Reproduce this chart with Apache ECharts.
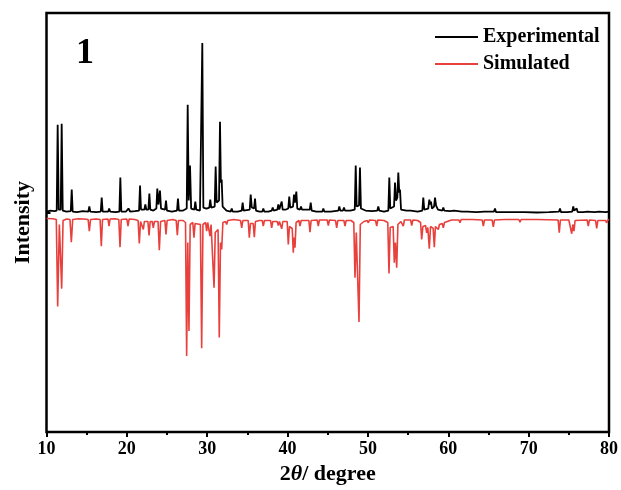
<!DOCTYPE html>
<html>
<head>
<meta charset="utf-8">
<script src="https://cdn.jsdelivr.net/npm/echarts@6/dist/echarts.min.js"></script>
<style>html,body{margin:0;padding:0;background:#fff}#c{width:621px;height:490px}</style>
</head>
<body>
<div id="c"></div>
<script>
// X axis: 2θ (degree); Y: relative intensity (arbitrary units, stacked offset)
const xTicks = [10, 20, 30, 40, 50, 60, 70, 80];
const seriesNames = ["Experimental", "Simulated"];
const panelLabel = "1";

// Experimental pattern: [2θ, intensity]
const experimental = [
[10.0,221],[10.5,222],[11.0,221.5],[11.27,222],[11.39,308],[11.52,223],[11.77,223],[11.89,309],[12.02,222],[12.5,221],
[13.02,221.5],[13.14,243],[13.26,221],[13.8,220.5],[14.5,221.5],[15.21,221],[15.33,226],[15.45,221],[16.2,220.5],
[16.75,221],[16.87,235],[16.99,221],[17.68,221],[17.8,224],[17.92,221],[18.6,220.5],[19.07,221],[19.19,255],[19.31,221],
[19.9,221],[20.2,224],[20.4,221],[21.0,221.5],[21.52,222],[21.64,247],[21.76,223],[22.18,223],[22.3,228],[22.42,223],
[22.68,223],[22.8,239],[22.92,223],[23.3,222],[23.67,224],[23.79,244],[23.93,228],[24.12,242],[24.25,224],[24.75,223],
[24.87,232],[24.99,222],[25.6,221],[26.24,222],[26.36,234],[26.48,222],[27.0,222],[27.45,224],[27.57,328],[27.7,232],
[27.86,267],[28.0,224],[28.4,223],[28.52,231],[28.64,223],[29.1,222],[29.27,223],[29.39,390],[29.52,225],[29.9,224],
[30.0,226],[30.1,224],[30.26,225],[30.38,233],[30.5,225],[30.93,226],[31.05,266],[31.18,230],[31.47,232],[31.59,311],
[31.7,250],[31.8,253],[31.92,226],[32.4,222],[32.93,221],[33.05,224],[33.17,221],[33.8,221],[34.29,222],[34.41,230],
[34.53,222],[35.29,223],[35.41,238],[35.55,225],[35.83,224],[35.95,234],[36.07,222],[36.5,221],[36.86,221],[36.98,224],
[37.1,221],[37.6,221],[38.03,222],[38.15,225],[38.27,222],[38.73,223],[38.85,228],[38.97,223],[39.15,224],[39.27,231],
[39.39,223],[39.8,223],[40.09,224],[40.21,236],[40.33,225],[40.68,226],[40.8,238],[40.92,230],[41.09,241],[41.21,224],
[41.55,223],[41.67,226],[41.79,223],[42.05,223],[42.17,225],[42.29,222],[42.76,223],[42.88,230],[43.0,222],[43.58,221],
[43.7,223],[43.82,221],[44.33,221],[44.45,224],[44.57,221],[45.37,221],[45.49,223],[45.61,221],[46.32,222],[46.44,226],
[46.56,222],[46.9,222],[47.02,225],[47.14,222],[47.8,222],[48.36,223],[48.48,267],[48.6,226],[48.89,227],[49.01,265],
[49.13,224],[49.7,222],[50.5,221.5],[51.17,222],[51.29,226],[51.41,222],[52.0,221],[52.54,222],[52.66,255],[52.78,224],
[53.25,226],[53.37,250],[53.5,232],[53.66,235],[53.78,260],[53.9,240],[53.99,243],[54.12,223],[54.8,222],[55.33,222],
[55.45,224],[55.57,221.5],[56.2,221],[56.77,222],[56.89,235],[57.01,223],[57.5,224],[57.64,233],[57.75,228],[57.85,231],
[57.97,224],[58.23,226],[58.35,235],[58.48,227],[58.6,228],[58.72,223],[59.26,222],[59.38,225],[59.5,222],[60.2,221.5],
[60.72,222],[60.84,224],[60.96,221],[61.7,221],[62.38,221],[62.5,222.5],[62.62,220.5],[63.5,220.5],[64.5,221],[65.69,221],
[65.81,224],[65.93,220.5],[67.0,220.5],[67.9,220.5],[68.0,222],[68.1,220],[69.5,220.5],[71.0,220],[72.5,220.5],[73.78,221],
[73.9,224],[74.02,220.5],[74.8,220.5],[75.43,221],[75.55,226],[75.67,222],[75.86,222],[75.98,224],[76.1,220.5],[76.8,220.5],
[77.3,221],[77.42,222.5],[77.54,220.5],[78.2,220.5],[78.76,221],[78.88,222.5],[79.0,220.5],[79.6,220.5],[80.0,221]
];

// Simulated pattern (inverted, offset below): [2θ, intensity]
const simulated = [
[10,214],[10.8,213.8],[11.22,213],[11.39,125.7],[11.6,208],[11.74,206],[11.89,143.7],[12.06,212],[12.5,213.5],[12.92,213],
[13.09,190.3],[13.26,213],[14.0,213.7],[14.6,213.5],[15.18,213],[15.33,201.3],[15.48,213],[16.2,213.5],[16.67,213],[16.82,186.3],
[16.97,213],[17.65,213.5],[17.78,206.3],[17.91,213.5],[18.5,213.7],[19.0,213],[19.15,185.3],[19.3,213],[20.0,213.5],[20.14,206.3],
[20.28,213.5],[21.0,213],[21.4,212],[21.55,189],[21.7,211],[21.92,211],[22.05,203],[22.18,211],[22.62,211],[22.76,197],
[22.9,211],[23.15,211],[23.29,204.7],[23.43,211],[23.88,211],[24.04,182.3],[24.2,211],[24.73,212],[24.87,198],[25.01,212],
[25.7,213],[26.14,212],[26.28,197.3],[26.42,212],[27.0,212],[27.3,210],[27.44,76.3],[27.58,190],[27.73,101.3],[27.88,208],
[28.21,210],[28.35,194.7],[28.49,209],[29.15,208],[29.31,84],[29.47,208],[29.8,210],[29.93,201.3],[30.06,210],[30.22,209],
[30.35,196.3],[30.48,208],[30.7,208],[30.85,144.7],[31.0,200],[31.35,203],[31.5,94.7],[31.65,190],[31.8,183],[31.95,210],
[32.28,211],[32.42,208],[32.56,212],[33.3,213],[34.15,212],[34.29,204.7],[34.43,212],[35.1,212],[35.24,194.7],[35.38,209],
[35.72,209],[35.86,195.3],[36.0,211],[36.5,212],[36.84,212],[36.98,206.3],[37.12,212],[37.5,212],[37.88,212],[38.02,204.7],
[38.16,211],[38.71,211],[38.85,207],[38.99,211],[39.13,211],[39.27,203.7],[39.41,211],[39.95,211],[40.09,188],[40.23,206],
[40.58,204],[40.71,179.7],[40.8,195],[40.92,184.7],[41.06,210],[41.41,212],[41.55,206.3],[41.69,212],[42.2,212],[42.65,212],
[42.79,200.3],[42.93,212],[43.68,212.5],[43.82,206.3],[43.96,212.5],[44.5,212.5],[44.93,212.5],[45.07,207],[45.21,212.5],[45.97,212],
[46.11,204.7],[46.25,212],[47.01,212],[47.15,206.3],[47.29,212],[47.9,212],[48.24,210],[48.39,154.7],[48.55,200],[48.73,200],
[48.89,110.3],[49.05,208],[49.5,211],[49.91,212],[50.05,209.7],[50.19,212.5],[50.95,212],[51.09,206.3],[51.23,212.5],[52.0,212],
[52.47,210],[52.62,159],[52.77,205],[53.14,206],[53.28,169.7],[53.42,190],[53.58,164.7],[53.73,208],[54.1,211],[54.26,212],
[54.4,206.3],[54.54,212.5],[55.31,212.5],[55.45,207],[55.59,212.5],[56.2,212],[56.55,210],[56.69,193],[56.84,206],[57.0,206],
[57.17,207],[57.31,199.7],[57.45,205],[57.64,183.7],[57.79,206],[58.12,204],[58.26,185.3],[58.4,206],[58.62,208],[58.76,203],
[58.9,208],[59.24,209],[59.38,204.7],[59.52,210],[60.4,212.5],[61.32,212.5],[61.46,209.7],[61.6,213],[63.0,213],[64.22,212.5],
[64.36,206.3],[64.5,212.5],[65.46,212.5],[65.6,205.7],[65.74,212.5],[67.0,213],[68.78,213],[68.92,210.3],[69.06,213],[71.0,213],
[73.67,212.5],[73.81,199.7],[73.95,212.5],[75.0,212.5],[75.22,212],[75.36,198.7],[75.5,208],[75.64,201.3],[75.78,212],[77.28,212.5],
[77.42,206.3],[77.56,212.5],[78.33,212],[78.47,204],[78.61,212],[79.57,212],[79.71,209.7],[79.85,212.5],[80,213]
];

const FONT = "'Liberation Serif','Times New Roman',serif";
const chart = echarts.init(document.getElementById('c'), null, {renderer: 'canvas'});
chart.setOption({
  animation: false,
  backgroundColor: '#fff',
  grid: {left: 46.5, right: 12, top: 13, bottom: 57, show: true, borderColor: '#000', borderWidth: 2.5, backgroundColor: 'transparent'},
  legend: {
    data: seriesNames, orient: 'vertical', left: 435, top: 27, itemGap: 7, padding: 0,
    icon: 'rect', itemWidth: 43, itemHeight: 2,
    textStyle: {fontFamily: FONT, fontWeight: 'bold', fontSize: 20, color: '#000', lineHeight: 20}
  },
  graphic: [{type: 'text', left: 76, top: 36, style: {text: panelLabel, font: "bold 36px " + FONT, fill: '#000'}}],
  xAxis: {
    type: 'value', min: xTicks[0], max: xTicks[xTicks.length - 1], interval: 10,
    name: '{a|2}{b|θ}{a|/ degree}', nameLocation: 'middle', nameGap: 31,
    nameTextStyle: {rich: {a: {fontFamily: FONT, fontWeight: 'bold', fontSize: 22, color: '#000'}, b: {fontFamily: FONT, fontWeight: 'bold', fontStyle: 'italic', fontSize: 22, color: '#000'}}},
    axisLine: {show: false},
    axisTick: {show: true, inside: false, length: 5, lineStyle: {color: '#000', width: 2}},
    minorTick: {show: true, splitNumber: 2, length: 3, lineStyle: {color: '#000', width: 2}},
    axisLabel: {margin: 8, fontFamily: FONT, fontWeight: 'bold', fontSize: 18, color: '#000'},
    splitLine: {show: false}
  },
  yAxis: {
    type: 'value', min: 0, max: 420,
    name: 'Intensity', nameLocation: 'middle', nameGap: 12.5, nameRotate: 90,
    nameTextStyle: {fontFamily: FONT, fontWeight: 'bold', fontSize: 22, color: '#000'},
    axisLine: {show: false},
    axisTick: {show: true, inside: true, length: 4, customValues: [219.7], lineStyle: {color: '#000', width: 2}},
    axisLabel: {show: false},
    splitLine: {show: false}
  },
  series: [
    {name: seriesNames[1], type: 'line', data: simulated, showSymbol: false, symbol: 'none', z: 2,
     lineStyle: {color: '#e8403c', width: 1.6}, itemStyle: {color: '#e8403c'}},
    {name: seriesNames[0], type: 'line', data: experimental, showSymbol: false, symbol: 'none', z: 3,
     lineStyle: {color: '#000', width: 1.8}, itemStyle: {color: '#000'}}
  ]
});
</script>
</body>
</html>
